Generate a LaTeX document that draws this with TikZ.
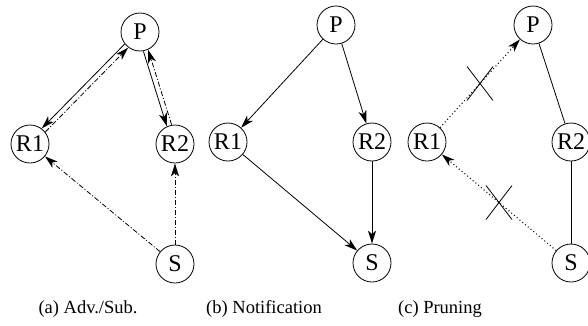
\documentclass[tikz,border=0pt]{standalone}
\usepackage{fontspec}
\setmainfont{Liberation Serif}
\usetikzlibrary{arrows.meta,calc}
\begin{document}
\begin{tikzpicture}[x=1pt,y=-1pt,
  stn/.style={circle,draw,line width=0.8pt,minimum size=38pt,inner sep=0pt,font=\fontsize{24}{26}\selectfont},
  captxt/.style={font=\fontsize{18.5}{21}\selectfont},
  lnw/.style={line width=0.8pt},
  arrw/.style={-{Stealth[length=13pt,width=8pt,inset=3.5pt]}},
  ddash/.style={dash pattern=on 5pt off 2pt on 1pt off 2pt},
  dotl/.style={line width=1pt,dash pattern=on 1pt off 2.6pt},
  prl/.style={shorten <=19.5pt, shorten >=19.5pt},
]
\useasboundingbox (0,0) rectangle (588,325);
% panel a
\node[stn] (Pa) at (140,32) {P};
\node[stn] (R1a) at (30,144) {R1};
\node[stn] (R2a) at (175,144) {R2};
\node[stn] (Sa) at (175,264) {S};
% panel b
\node[stn] (Pb) at (336,25) {P};
\node[stn] (R1b) at (228,142) {R1};
\node[stn] (R2b) at (372,142) {R2};
\node[stn] (Sb) at (372,263) {S};
% panel c
\node[stn] (Pc) at (533,25) {P};
\node[stn] (R1c) at (427,142) {R1};
\node[stn] (R2c) at (571,142) {R2};
\node[stn] (Sc) at (571,263) {S};
% captions
\node[captxt] (ca) at (88,309) {(a) Adv./Sub.};
\node[captxt] (cb) at (264,309) {(b) Notification};
\node[captxt] (cc) at (440,309) {(c) Pruning};

% panel a edges
\draw[lnw,arrw,prl] ($(Pa)!2.5pt!-90:(R1a)$) -- ($(R1a)!2.5pt!90:(Pa)$);
\draw[lnw,arrw,prl,ddash] ($(R1a)!2.5pt!-90:(Pa)$) -- ($(Pa)!2.5pt!90:(R1a)$);
\draw[lnw,arrw,prl] ($(Pa)!2.5pt!-90:(R2a)$) -- ($(R2a)!2.5pt!90:(Pa)$);
\draw[lnw,arrw,prl,ddash] ($(R2a)!2.5pt!-90:(Pa)$) -- ($(Pa)!2.5pt!90:(R2a)$);
\draw[lnw,arrw,ddash] (Sa) -- (R1a);
\draw[lnw,arrw,ddash] (Sa) -- (R2a);
% panel b edges
\draw[lnw,arrw] (Pb) -- (R1b);
\draw[lnw,arrw] (Pb) -- (R2b);
\draw[lnw,arrw] (R1b) -- (Sb);
\draw[lnw,arrw] (R2b) -- (Sb);
% panel c edges
\draw[arrw,dotl] (R1c) -- (Pc);
\draw[arrw,dotl] (Sc) -- (R1c);
\draw[lnw] (Pc) -- (R2c);
\draw[lnw] (R2c) -- (Sc);
\coordinate (x1) at ($(R1c)!0.5!(Pc)$);
\coordinate (x2) at ($(Sc)!0.5!(R1c)$);
\draw[lnw] ($(x1)+(-13,-17)$) -- ($(x1)+(13,17)$);
\draw[lnw] ($(x1)+(13,-17)$) -- ($(x1)+(-13,17)$);
\draw[lnw] ($(x2)+(-13,-17)$) -- ($(x2)+(13,17)$);
\draw[lnw] ($(x2)+(13,-17)$) -- ($(x2)+(-13,17)$);
\end{tikzpicture}
\end{document}
